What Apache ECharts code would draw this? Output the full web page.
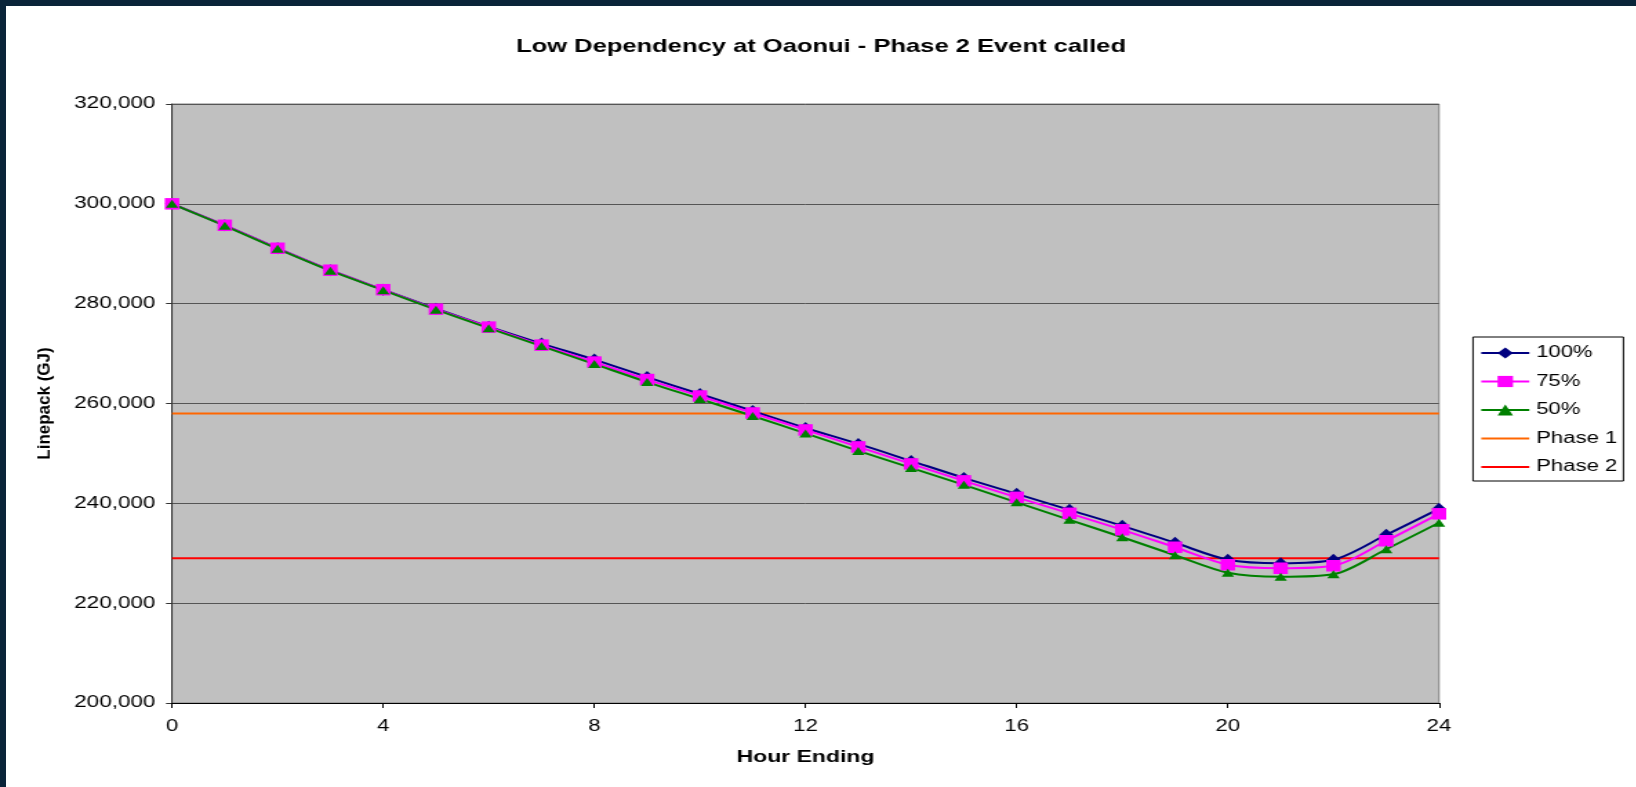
<!DOCTYPE html>
<html>
<head>
<meta charset="utf-8">
<script src="https://cdn.jsdelivr.net/npm/echarts@6/dist/echarts.min.js"></script>
<style>
	html, body { margin: 0; padding: 0; background: #fff; overflow: hidden; }
	#frame_top { position: absolute; left: 0; top: 0; width: 1636px; height: 6px; background: #0a2439; z-index: 5; }
	#frame_left { position: absolute; left: 0; top: 0; width: 6px; height: 787px; background: #0a2439; z-index: 5; }
	/* the original picture is stretched sideways, so the chart is drawn narrow and scaled in x */
	#grafico { position: absolute; left: 0; top: 0; height: 787px; transform-origin: 0 0; }
</style>
</head>
<body>
<div id="frame_top"></div>
<div id="frame_left"></div>
<div id="grafico"></div>
<script>
	// DADOS DO GRAFICO
	var horas = [0, 1, 2, 3, 4, 5, 6, 7, 8, 9, 10, 11, 12, 13, 14, 15, 16, 17, 18, 19, 20, 21, 22, 23, 24];
	var linha100 = [300000, 295700, 291100, 286700, 282800, 279000, 275400, 272000, 268800, 265300, 261900, 258500, 255100, 251900, 248500, 245100, 241900, 238700, 235500, 232100, 228700, 228000, 228700, 233700, 238900];
	var linha75 = [300000, 295700, 291100, 286700, 282800, 278900, 275300, 271700, 268300, 264800, 261500, 258100, 254700, 251300, 247900, 244500, 241200, 238000, 234700, 231200, 227700, 227000, 227500, 232500, 237900];
	var linha50 = [300000, 295600, 291000, 286600, 282700, 278800, 275100, 271500, 267900, 264300, 260900, 257500, 254000, 250500, 247100, 243700, 240200, 236700, 233200, 229600, 226100, 225300, 225800, 230800, 236100];
	var fase1 = 258000;
	var fase2 = 229000;
	var nomes = ['100%', '75%', '50%', 'Phase 1', 'Phase 2'];
	var titulo = 'Low Dependency at Oaonui - Phase 2 Event called';

	var S = 1.38; // esticamento horizontal
	var W = 1636 / S;
	var div = document.getElementById('grafico');
	div.style.width = W + 'px';
	div.style.transform = 'scaleX(' + S + ')';

	var pares = function(vals){
		return horas.map(function(h, i){ return [h, vals[i]]; });
	};
	var reta = function(v){
		return [[horas[0], v], [horas[horas.length - 1], v]];
	};
	var serie = function(nome, cor, simbolo, tam, dados){
		return {
			name: nome,
			type: 'line',
			data: dados,
			smooth: 0.3,
			symbol: simbolo,
			symbolSize: tam,
			showSymbol: simbolo !== 'none',
			lineStyle: { color: cor, width: 2 },
			itemStyle: { color: cor },
			emphasis: { disabled: true },
			z: 3
		};
	};

	// legenda: as linhas de fase sem simbolo
	var legenda = nomes.map(function(n, i){
		return i < 3 ? { name: n } : { name: n, itemStyle: { opacity: 0 } };
	});

	var myChart = echarts.init(div);
	var option = {
		animation: false,
		title: {
			text: titulo,
			left: 821 / S,
			textAlign: 'center',
			top: 37,
			padding: 0,
			textStyle: { fontFamily: 'Liberation Sans, Arial', fontSize: 18.5, fontWeight: 'bold', color: '#000' }
		},
		legend: {
			data: legenda,
			orient: 'vertical',
			left: 1473 / S,
			top: 337,
			padding: [8, 4.5, 6, 5],
			itemWidth: 48 / S,
			itemHeight: 14,
			itemGap: 12.5,
			borderColor: '#000',
			borderWidth: 1,
			backgroundColor: '#fff',
			textStyle: { fontFamily: 'Liberation Sans, Arial', fontSize: 16, color: '#000', lineHeight: 14 }
		},
		grid: {
			left: 172 / S,
			top: 104,
			width: (1439 - 172) / S,
			height: 599,
			show: true,
			backgroundColor: '#c0c0c0',
			borderColor: '#808080',
			borderWidth: 1
		},
		xAxis: {
			type: 'value',
			min: 0,
			max: 24,
			interval: 4,
			name: 'Hour Ending',
			nameLocation: 'middle',
			nameGap: 46,
			nameTextStyle: { fontFamily: 'Liberation Sans, Arial', fontSize: 16.7, fontWeight: 'bold', color: '#000' },
			axisLine: { onZero: false, lineStyle: { color: '#000', width: 1 } },
			axisTick: { inside: false, length: 5, lineStyle: { color: '#000' } },
			axisLabel: { margin: 16, fontFamily: 'Liberation Sans, Arial', fontSize: 16, color: '#000' },
			splitLine: { show: false }
		},
		yAxis: {
			type: 'value',
			min: 200000,
			max: 320000,
			interval: 20000,
			axisLine: { show: true, lineStyle: { color: '#333', width: 1 } },
			axisTick: { show: true, inside: false, length: 6 / S, lineStyle: { color: '#333' } },
			axisLabel: {
				margin: 12,
				fontFamily: 'Liberation Sans, Arial',
				fontSize: 16.3,
				color: '#000',
				formatter: function(v){ return v.toLocaleString('en-US'); }
			},
			splitLine: { show: true, lineStyle: { color: '#555', width: 1 } }
		},
		// titulo do eixo y, desfazendo o esticamento
		graphic: [{
			type: 'text',
			x: 45 / S,
			y: 403.5,
			rotation: Math.PI / 2,
			scaleY: 1 / S,
			style: {
				text: 'Linepack (GJ)',
				fontFamily: 'Liberation Sans, Arial',
				fontSize: 17,
				fontWeight: 'bold',
				fill: '#000',
				align: 'center',
				verticalAlign: 'middle'
			}
		}],
		series: [
			serie(nomes[3], '#ff6600', 'none', 0, reta(fase1)),
			serie(nomes[4], '#ff0000', 'none', 0, reta(fase2)),
			serie(nomes[0], '#000080', 'diamond', [10, 12], pares(linha100)),
			serie(nomes[1], '#ff00ff', 'rect', [10.5, 11.5], pares(linha75)),
			serie(nomes[2], '#008000', 'triangle', [9, 8], pares(linha50))
		]
	};
	// aplico as alterações de layout no chart
	myChart.setOption(option);
</script>
</body>
</html>
